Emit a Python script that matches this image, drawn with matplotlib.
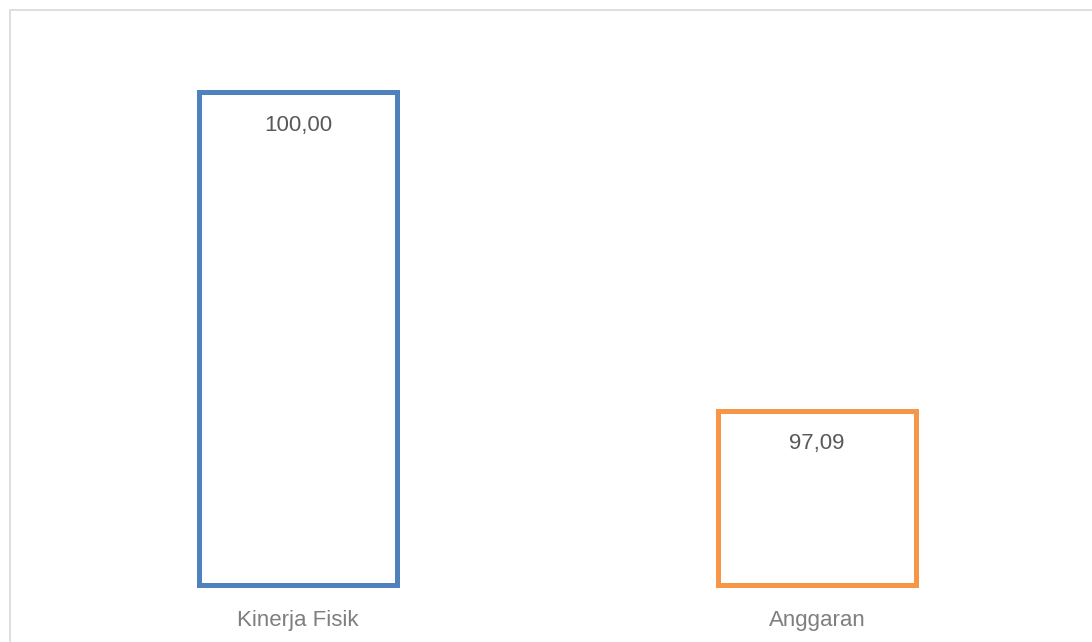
import matplotlib
matplotlib.use("Agg")
import matplotlib.pyplot as plt
from matplotlib.patches import Rectangle

categories = ["Kinerja Fisik", "Anggaran"]
values = [100.00, 97.09]
value_labels = ["100,00", "97,09"]
colors = ["#4F81BD", "#F79646"]

plt.rcParams['font.family'] = ['Liberation Sans', 'DejaVu Sans']

W, H = 1092, 642
fig = plt.figure(figsize=(W / 100, H / 100), dpi=100)
fig.patch.set_facecolor("white")

# chart border (cropped at right and bottom)
fig.add_artist(Rectangle((9.5 / W, -0.05), 1.2, 1 - 9.5 / H + 0.05,
                         transform=fig.transFigure, fill=False,
                         edgecolor="#D9D9D9", linewidth=1.2))

left = 38.5 / W
right = 1076.5 / W
bottom = (H - 584.5) / H
top = (H - 37.8) / H
ax = fig.add_axes([left, bottom, right - left, top - bottom])

x = list(range(len(categories)))
bars = ax.bar(x, [v - 95.5 for v in values], bottom=95.5, width=0.38,
              facecolor="none", edgecolor=colors, linewidth=3.6)
for b in bars:
    b.set_clip_on(False)
ax.set_xlim(-0.5, 1.5)
ax.set_ylim(95.5, 100.5)

for xi, v, lab in zip(x, values, value_labels):
    ax.annotate(lab, xy=(xi, v), xytext=(0, -27.7), textcoords="offset points",
                ha="center", va="baseline", fontsize=16, color="#595959")

ax.set_xticks(x)
ax.set_xticklabels(categories, fontsize=16, color="#7F7F7F", va="baseline")
ax.tick_params(axis="x", length=0, pad=29.9)
ax.set_yticks([])
for s in ax.spines.values():
    s.set_visible(False)
ax.patch.set_visible(False)

fig.savefig("out.png", dpi=100, facecolor="white")
